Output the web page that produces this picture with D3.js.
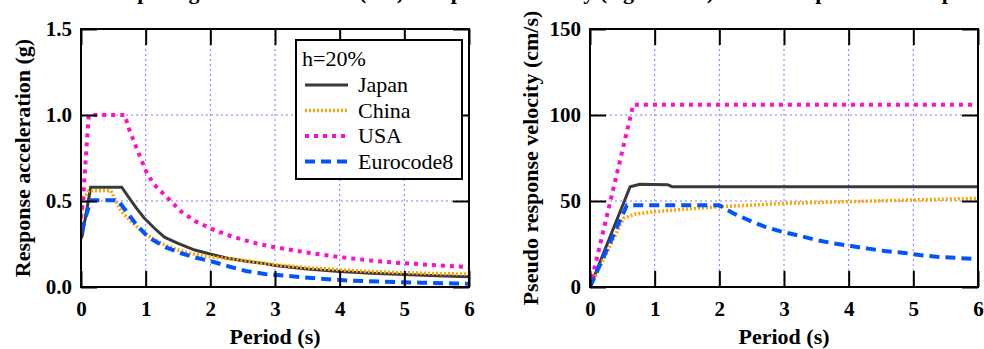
<!DOCTYPE html>
<html lang="en">
<head>
<meta charset="UTF-8">
<title>Design spectra</title>
<script src="https://cdnjs.cloudflare.com/ajax/libs/d3/7.8.5/d3.min.js"></script>
<style>
  body { margin: 0; background: #fff; }
  svg text { font-family: "Liberation Serif", "Times New Roman", serif; }
</style>
</head>
<body>
<div id="chart"></div>
<script>
// periods (s) and values, [T, value]
var japanAcc = [[0,0.28],[0.02,0.30],[0.15,0.58],[0.63,0.58],[0.73,0.525],[0.86,0.457],[0.98,0.40],[1.14,0.34],[1.29,0.29],[1.5,0.254],[1.76,0.215],[2.01,0.19],[2.27,0.167],[2.53,0.151],[2.84,0.136],[3.0,0.125],[3.5,0.105],[4.0,0.09],[4.5,0.08],[5.0,0.072],[5.5,0.065],[6.0,0.06]];
var chinaAcc = [[0,0.42],[0.03,0.50],[0.12,0.56],[0.46,0.56],[0.52,0.515],[0.62,0.44],[0.78,0.38],[0.98,0.31],[1.24,0.254],[1.5,0.215],[1.76,0.19],[2.0,0.176],[2.5,0.155],[3.0,0.13],[3.5,0.112],[4.0,0.10],[4.5,0.09],[5.0,0.083],[5.5,0.078],[6.0,0.075]];
var usaAcc = [[0,0.40],[0.03,0.5],[0.08,0.78],[0.12,1.0],[0.68,1.0],[0.73,0.93],[0.81,0.855],[0.91,0.76],[1.01,0.67],[1.12,0.60],[1.32,0.525],[1.56,0.435],[1.78,0.38],[2.04,0.335],[2.3,0.298],[2.66,0.258],[2.95,0.234],[3.59,0.195],[4.0,0.174],[4.57,0.15],[5.0,0.138],[5.6,0.124],[6.0,0.115]];
var ec8Acc = [[0,0.32],[0.02,0.34],[0.15,0.505],[0.57,0.505],[0.7,0.44],[0.86,0.36],[1.04,0.29],[1.29,0.234],[1.55,0.196],[1.78,0.17],[2.04,0.147],[2.3,0.118],[2.55,0.093],[2.84,0.076],[3.08,0.068],[3.64,0.05],[4.16,0.037],[4.7,0.031],[5.24,0.025],[5.78,0.021],[6.0,0.019]];

var japanVel = [[0,0],[0.62,58.3],[0.77,59.7],[1.2,59.5],[1.27,58.3],[6,58.3]];
var chinaVel = [[0,0],[0.52,40],[0.7,42.4],[1.0,43.8],[1.47,45.2],[2.0,46.7],[3.0,48.6],[4.0,49.6],[5.0,50.6],[6.0,51.5]];
var usaVel = [[0,0],[0.67,106],[6,106]];
var ec8Vel = [[0,0],[0.57,47.5],[2.0,47.5],[2.22,42.8],[2.47,38.6],[2.7,35.1],[2.96,32.2],[3.25,29.7],[3.5,27.3],[3.76,25.4],[4.04,23.8],[4.3,22.3],[4.56,20.9],[4.84,19.9],[5.1,18.6],[5.36,17.6],[5.64,17],[5.95,16.3],[6,16.1]];

var seriesNames = ["Japan", "China", "USA", "Eurocode8"];
var periodTicks = [0, 1, 2, 3, 4, 5, 6];
var accTicks = [0, 0.5, 1.0, 1.5];
var velTicks = [0, 50, 100, 150];

// line style per series
var styles = {
  "Japan":     { color: "#3a3a3a", width: 3,   dash: null },
  "China":     { color: "#ffa500", width: 3.5, dash: "2,2" },
  "USA":       { color: "#ff10c8", width: 4,   dash: "4,5" },
  "Eurocode8": { color: "#0055ff", width: 4,   dash: "10,6" }
};

var W = 984, H = 349;
var svg = d3.select("#chart").append("svg")
  .attr("width", W).attr("height", H);

// title line, cut off at the top edge as in the source figure
svg.append("text")
  .attr("x", 92).attr("y", -1)
  .attr("font-size", "22px").attr("font-weight", "bold")
  .text("Comparing the acceleration (left) and pseudo velocity (right hand) for the response of the spectra");

function drawPanel(id, left, yMax, yTicks, yFmt, yLabel, yLabelX, data) {
  var top = 29, bottom = 287, right = left + 388;
  var x = d3.scaleLinear().domain([0, 6]).range([left, right]);
  var y = d3.scaleLinear().domain([0, yMax]).range([bottom, top]);
  var g = svg.append("g");

  g.append("clipPath").attr("id", id)
    .append("rect").attr("x", left).attr("y", top)
    .attr("width", right - left).attr("height", bottom - top);

  // grid
  var grid = g.append("g").attr("stroke", "#7b7bff").attr("stroke-width", 1)
    .attr("stroke-dasharray", "2,3");
  periodTicks.slice(1, -1).forEach(function(t) {
    grid.append("line").attr("x1", x(t)).attr("x2", x(t)).attr("y1", top).attr("y2", bottom);
  });
  yTicks.slice(1, -1).forEach(function(t) {
    grid.append("line").attr("x1", left).attr("x2", right).attr("y1", y(t)).attr("y2", y(t));
  });

  // series
  var line = d3.line().x(function(d) { return x(d[0]); }).y(function(d) { return y(d[1]); });
  var lines = g.append("g").attr("clip-path", "url(#" + id + ")");
  seriesNames.forEach(function(name, i) {
    var s = styles[name];
    lines.append("path").datum(data[i])
      .attr("d", line).attr("fill", "none")
      .attr("stroke", s.color).attr("stroke-width", s.width)
      .attr("stroke-dasharray", s.dash);
  });

  // axes: inward ticks on all four sides
  var tl = 16;
  g.append("g").attr("transform", "translate(0," + bottom + ")")
    .call(d3.axisBottom(x).tickValues(periodTicks).tickSize(-tl).tickPadding(14).tickFormat(d3.format("d")));
  g.append("g").attr("transform", "translate(0," + top + ")")
    .call(d3.axisTop(x).tickValues(periodTicks).tickSize(-tl).tickFormat(""));
  g.append("g").attr("transform", "translate(" + left + ",0)")
    .call(d3.axisLeft(y).tickValues(yTicks).tickSize(-tl).tickPadding(9).tickFormat(yFmt));
  g.append("g").attr("transform", "translate(" + right + ",0)")
    .call(d3.axisRight(y).tickValues(yTicks).tickSize(-tl).tickFormat(""));
  g.selectAll(".domain").remove();
  g.selectAll(".tick line").attr("stroke", "#000").attr("stroke-width", 2);
  g.selectAll(".tick text")
    .attr("font-size", "21px").attr("font-weight", "bold").attr("fill", "#000");

  g.append("rect").attr("x", left).attr("y", top)
    .attr("width", right - left).attr("height", bottom - top)
    .attr("fill", "none").attr("stroke", "#000").attr("stroke-width", 2);

  g.append("text").attr("x", (left + right) / 2).attr("y", 344)
    .attr("text-anchor", "middle").attr("font-size", "22px").attr("font-weight", "bold")
    .text("Period (s)");
  g.append("text")
    .attr("transform", "translate(" + yLabelX + "," + ((top + bottom) / 2) + ") rotate(-90)")
    .attr("text-anchor", "middle").attr("font-size", "22px").attr("font-weight", "bold")
    .text(yLabel);

  return g;
}

var accPanel = drawPanel("clipA", 81, 1.5, accTicks, d3.format(".1f"),
  "Response acceleration (g)", 30, [japanAcc, chinaAcc, usaAcc, ec8Acc]);
drawPanel("clipV", 590, 150, velTicks, d3.format("d"),
  "Pseudo response velocity (cm/s)", 538, [japanVel, chinaVel, usaVel, ec8Vel]);

// legend on the acceleration panel
var lg = accPanel.append("g");
lg.append("rect").attr("x", 296).attr("y", 40).attr("width", 166).attr("height", 139)
  .attr("fill", "#fff").attr("stroke", "#000").attr("stroke-width", 2);
lg.append("text").attr("x", 302).attr("y", 66).attr("font-size", "22px").text("h=20%");
seriesNames.forEach(function(name, i) {
  var s = styles[name];
  var by = 92 + i * 25.5;
  lg.append("line").attr("x1", 305).attr("x2", 348).attr("y1", by - 7).attr("y2", by - 7)
    .attr("stroke", s.color).attr("stroke-width", s.width).attr("stroke-dasharray", s.dash);
  lg.append("text").attr("x", 358).attr("y", by).attr("font-size", "22px").text(name);
});
</script>
</body>
</html>
